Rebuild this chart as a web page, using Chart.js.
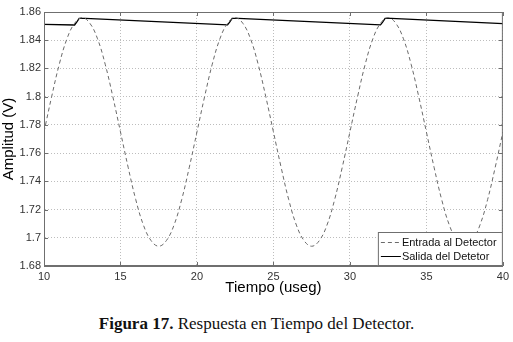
<!DOCTYPE html>
<html>
<head>
<meta charset="utf-8">
<script src="https://cdn.jsdelivr.net/npm/chart.js@4"></script>
<style>
  body { margin: 0; background: #fff; width: 513px; height: 342px; overflow: hidden; }
  #wrap { position: relative; width: 513px; height: 297px; }
  #cap { position: absolute; left: 0; top: 314px; width: 513px; text-align: center;
         font-family: "Liberation Serif", "Times New Roman", serif; font-size: 17px; color: #111; }
</style>
</head>
<body>
<div id="wrap"><canvas id="chart1" width="513" height="297"></canvas></div>
<div id="cap"><b>Figura 17.</b> Respuesta en Tiempo del Detector.</div>
<script>
// Entrada al Detector (dashed), read every 0.5 useg
const entradaX = [10,10.5,11,11.5,12,12.5,13,13.5,14,14.5,15,15.5,16,16.5,17,17.5,18,18.5,19,19.5,
  20,20.5,21,21.5,22,22.5,23,23.5,24,24.5,25,25.5,26,26.5,27,27.5,28,28.5,29,29.5,
  30,30.5,31,31.5,32,32.5,33,33.5,34,34.5,35,35.5,36,36.5,37,37.5,38,38.5,39,39.5,40];
const entradaY = [1.775,1.800,1.823,1.841,1.852,1.856,1.852,1.841,1.823,1.800,1.775,1.750,1.727,1.709,1.698,1.694,1.698,1.709,1.727,1.750,
  1.775,1.800,1.823,1.841,1.852,1.856,1.852,1.841,1.823,1.800,1.775,1.750,1.727,1.709,1.698,1.694,1.698,1.709,1.727,1.750,
  1.775,1.800,1.823,1.841,1.852,1.856,1.852,1.841,1.823,1.800,1.775,1.750,1.727,1.709,1.698,1.694,1.698,1.709,1.727,1.750,1.775];

// Salida del Detetor (solid)
const salidaX = [10, 12.0, 12.15, 12.3, 12.7, 22.0, 22.15, 22.3, 22.7, 32.0, 32.15, 32.3, 32.7, 40];
const salidaY = [1.8513, 1.8508, 1.8530, 1.8555, 1.8555, 1.8509, 1.8530, 1.8555, 1.8555, 1.8509, 1.8530, 1.8555, 1.8555, 1.8518];

const xTicks = [10, 15, 20, 25, 30, 35, 40];
const yTicks = [1.68, 1.7, 1.72, 1.74, 1.76, 1.78, 1.8, 1.82, 1.84, 1.86];
const seriesNames = ["Entrada al Detector", "Salida del Detetor"];

const toPts = (xs, ys) => xs.map((x, i) => ({ x: x, y: ys[i] }));

const framePlugin = {
  id: "frame",
  afterDraw(chart) {
    const c = chart.ctx, a = chart.chartArea;
    const sx = chart.scales.x, sy = chart.scales.y;
    c.save();
    c.strokeStyle = "#6f6f6f";
    c.lineWidth = 1;
    c.strokeRect(a.left + 0.5, a.top + 0.5, a.right - a.left - 1, a.bottom - a.top - 1);
    // inner tick marks
    c.beginPath();
    xTicks.forEach(v => {
      const px = Math.round(sx.getPixelForValue(v)) + 0.5;
      c.moveTo(px, a.bottom); c.lineTo(px, a.bottom - 4);
      c.moveTo(px, a.top); c.lineTo(px, a.top + 4);
    });
    yTicks.forEach(v => {
      const py = Math.round(sy.getPixelForValue(v)) + 0.5;
      c.moveTo(a.left, py); c.lineTo(a.left + 4, py);
      c.moveTo(a.right, py); c.lineTo(a.right - 4, py);
    });
    c.stroke();
    // legend box, lower right
    const w = 125, h = 34;
    const bx = a.right - w, by = a.bottom - h;
    c.fillStyle = "#fff";
    c.fillRect(bx, by, w, h);
    c.strokeStyle = "#6f6f6f";
    c.strokeRect(bx + 0.5, by + 0.5, w - 1, h - 1);
    c.font = "11px 'Liberation Sans', Arial, sans-serif";
    c.textBaseline = "middle";
    c.fillStyle = "#111";
    const ds = chart.data.datasets;
    ds.forEach((d, i) => {
      const yy = by + 10 + i * 14;
      c.strokeStyle = d.borderColor;
      c.lineWidth = 1;
      c.setLineDash(d.borderDash || []);
      c.beginPath();
      c.moveTo(bx + 3, yy + 0.5);
      c.lineTo(bx + 23, yy + 0.5);
      c.stroke();
      c.setLineDash([]);
      c.fillText(d.label, bx + 24, yy + 1);
    });
    c.restore();
  }
};

const ctx = document.getElementById("chart1").getContext("2d");
new Chart(ctx, {
  type: "line",
  data: {
    datasets: [
      {
        label: seriesNames[0],
        data: toPts(entradaX, entradaY),
        borderColor: "#6a6a6a",
        borderWidth: 1,
        borderDash: [4, 3],
        pointRadius: 0,
        tension: 0.4,
      },
      {
        label: seriesNames[1],
        data: toPts(salidaX, salidaY),
        borderColor: "#000",
        borderWidth: 1.3,
        pointRadius: 0,
        tension: 0,
      }
    ],
  },
  options: {
    responsive: false,
    animation: false,
    maintainAspectRatio: false,
    layout: { padding: { top: 12, right: 8, left: 0, bottom: 0 } },
    plugins: { legend: { display: false }, tooltip: { enabled: false } },
    scales: {
      x: {
        type: "linear",
        min: 10, max: 40,
        afterBuildTicks: (s) => { s.ticks = xTicks.map(v => ({ value: v })); },
        afterFit: (s) => { s.height = 31; },
        grid: { color: "#bdbdbd", drawTicks: false, lineWidth: 1 },
        border: { display: true, color: "#6f6f6f", dash: [1, 2] },
        ticks: { color: "#333", padding: 4, autoSkip: false, maxRotation: 0,
                 font: { family: "'Liberation Sans', Arial", size: 11 } },
        title: { display: true, text: "Tiempo (useg)", color: "#000", padding: 0,
                 font: { family: "'Liberation Sans', Arial", size: 15 } },
      },
      y: {
        min: 1.68, max: 1.86,
        afterBuildTicks: (s) => { s.ticks = yTicks.map(v => ({ value: v })); },
        afterFit: (s) => { s.width = 44; },
        grid: { color: "#bdbdbd", drawTicks: false, lineWidth: 1 },
        border: { display: true, color: "#6f6f6f", dash: [1, 2] },
        ticks: { color: "#333", padding: 3, autoSkip: false,
                 font: { family: "'Liberation Sans', Arial", size: 11 },
                 callback: (v) => String(parseFloat(Number(v).toFixed(2))) },
        title: { display: true, text: "Amplitud (V)", color: "#000", padding: 0,
                 font: { family: "'Liberation Sans', Arial", size: 15 } },
      },
    },
  },
  plugins: [framePlugin],
});
</script>
</body>
</html>
